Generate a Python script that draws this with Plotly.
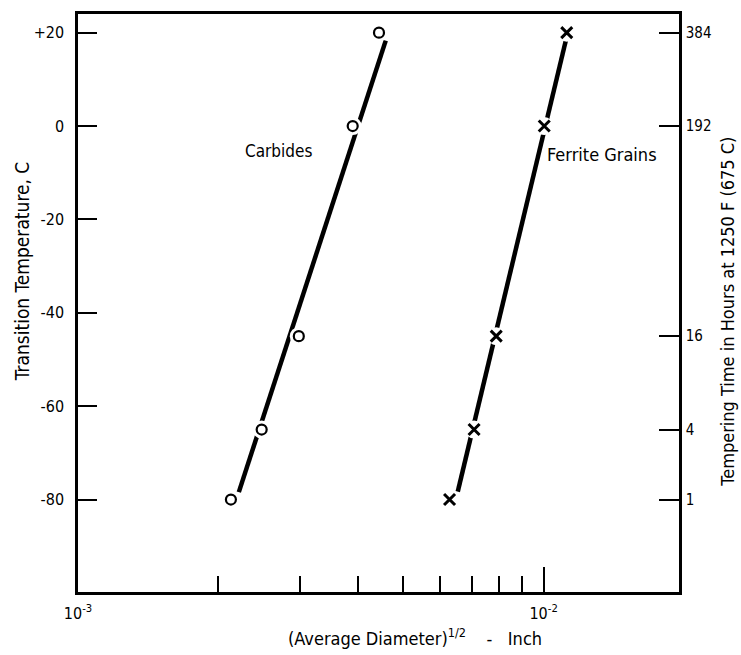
import plotly.graph_objects as go

# Measured points: (average diameter)^1/2 in inches vs transition temperature (C)
carbide_x = [2.13e-3, 2.48e-3, 2.98e-3, 3.89e-3, 4.43e-3]
carbide_y = [-80, -65, -45, 0, 20]
ferrite_x = [6.28e-3, 7.09e-3, 7.91e-3, 1.003e-2, 1.121e-2]
ferrite_y = [-80, -65, -45, 0, 20]

# Hand-fitted trend lines (end points)
carbide_fit_x = [2.215e-3, 4.58e-3]
carbide_fit_y = [-78.4, 18.3]
ferrite_fit_x = [6.54e-3, 1.117e-2]
ferrite_fit_y = [-78.3, 18.5]

# Right-hand scale: tempering time (hours) at the matching temperatures
hours_pos = [20, 0, -45, -65, -80]
hours_text = ["384", "192", "16", "4", "1"]

temp_ticks = [20, 0, -20, -40, -60, -80]
temp_text = ["+20", "0", "-20", "-40", "-60", "-80"]

x_major = [1e-3, 1e-2]
x_major_text = ["10<sup>-3</sup>", "10<sup>-2</sup>"]
x_minor = [2e-3, 3e-3, 4e-3, 5e-3, 6e-3, 7e-3, 8e-3, 9e-3]

X_RANGE = [-3, -1.7093]
Y_RANGE = [-99.8, 24.0]

FONT = "DejaVu Sans Condensed, Liberation Sans Narrow, DejaVu Sans, sans-serif"
INK = "black"
NB = "\u00a0"

fig = go.Figure()

fig.add_trace(go.Scatter(x=carbide_fit_x, y=carbide_fit_y, mode="lines",
                         line=dict(color=INK, width=4.5), showlegend=False, hoverinfo="skip"))
fig.add_trace(go.Scatter(x=ferrite_fit_x, y=ferrite_fit_y, mode="lines",
                         line=dict(color=INK, width=4.5), showlegend=False, hoverinfo="skip"))

# white halos that break the trend lines around each plotted point
for xs, ys in ((carbide_x, carbide_y), (ferrite_x, ferrite_y)):
    fig.add_trace(go.Scatter(x=xs, y=ys, mode="markers",
                             marker=dict(symbol="circle", size=18, color="white", line=dict(width=0)),
                             showlegend=False, hoverinfo="skip"))

fig.add_trace(go.Scatter(x=carbide_x, y=carbide_y, mode="markers", name="Carbides",
                         marker=dict(symbol="circle-open", size=10, color=INK, line=dict(width=2.2, color=INK)),
                         showlegend=False))
fig.add_trace(go.Scatter(x=ferrite_x, y=ferrite_y, mode="markers", name="Ferrite Grains",
                         marker=dict(symbol="x-thin-open", size=11, color=INK, line=dict(width=3, color=INK)),
                         showlegend=False))

# placeholder so the secondary (hours) axis is drawn
fig.add_trace(go.Scatter(x=[None], y=[None], yaxis="y2", showlegend=False, hoverinfo="skip"))

# typewriter-style spacing around the dash
x_title = "(Average Diameter)<sup>1/2</sup>" + NB * 4 + "-" + NB * 3 + "Inch"

fig.update_layout(
    width=741, height=655,
    margin=dict(l=78, r=62, t=11, b=63),
    paper_bgcolor="white", plot_bgcolor="white",
    font=dict(family=FONT, size=16, color=INK),
    xaxis=dict(
        type="log", range=X_RANGE, showgrid=False, zeroline=False,
        showline=True, linecolor=INK, linewidth=2.5, mirror=True,
        tickvals=x_major, ticktext=x_major_text,
        ticks="inside", ticklen=25, tickwidth=2, tickcolor=INK,
        tickfont=dict(family=FONT, size=16), ticklabelstandoff=5,
        minor=dict(tickvals=x_minor, ticks="inside", ticklen=16, tickwidth=2,
                   tickcolor=INK, showgrid=False),
    ),
    yaxis=dict(
        range=Y_RANGE, showgrid=False, zeroline=False,
        showline=True, linecolor=INK, linewidth=2.5,
        tickvals=temp_ticks, ticktext=temp_text,
        ticks="inside", ticklen=19, tickwidth=2, tickcolor=INK,
        tickfont=dict(family=FONT, size=16), ticklabelstandoff=8,
    ),
    yaxis2=dict(
        overlaying="y", side="right", range=Y_RANGE, showgrid=False, zeroline=False,
        showline=True, linecolor=INK, linewidth=2.5,
        tickvals=hours_pos, ticktext=hours_text,
        ticks="inside", ticklen=20, tickwidth=2, tickcolor=INK,
        tickfont=dict(family=FONT, size=15), ticklabelstandoff=1,
    ),
    annotations=[
        dict(text="Carbides", x=-2.569, y=-5.3, xref="x", yref="y",
             showarrow=False, xanchor="center", yanchor="middle", font=dict(size=17)),
        dict(text="Ferrite Grains", x=-1.997, y=-6.0, xref="x", yref="y",
             showarrow=False, xanchor="left", yanchor="middle", font=dict(size=18)),
        dict(text=x_title, x=(286 - 78) / 601, y=-0.078,
             xref="paper", yref="paper", showarrow=False,
             xanchor="left", yanchor="middle", font=dict(size=18)),
        dict(text="Transition Temperature, C", x=-0.0932, y=0.555,
             xref="paper", yref="paper", showarrow=False, textangle=-90,
             xanchor="center", yanchor="middle", font=dict(size=19)),
        dict(text="Tempering Time in Hours at 1250 F (675 C)", x=1.0815, y=0.485,
             xref="paper", yref="paper", showarrow=False, textangle=-90,
             xanchor="center", yanchor="middle", font=dict(size=18)),
    ],
)

fig.write_html("out.html")
